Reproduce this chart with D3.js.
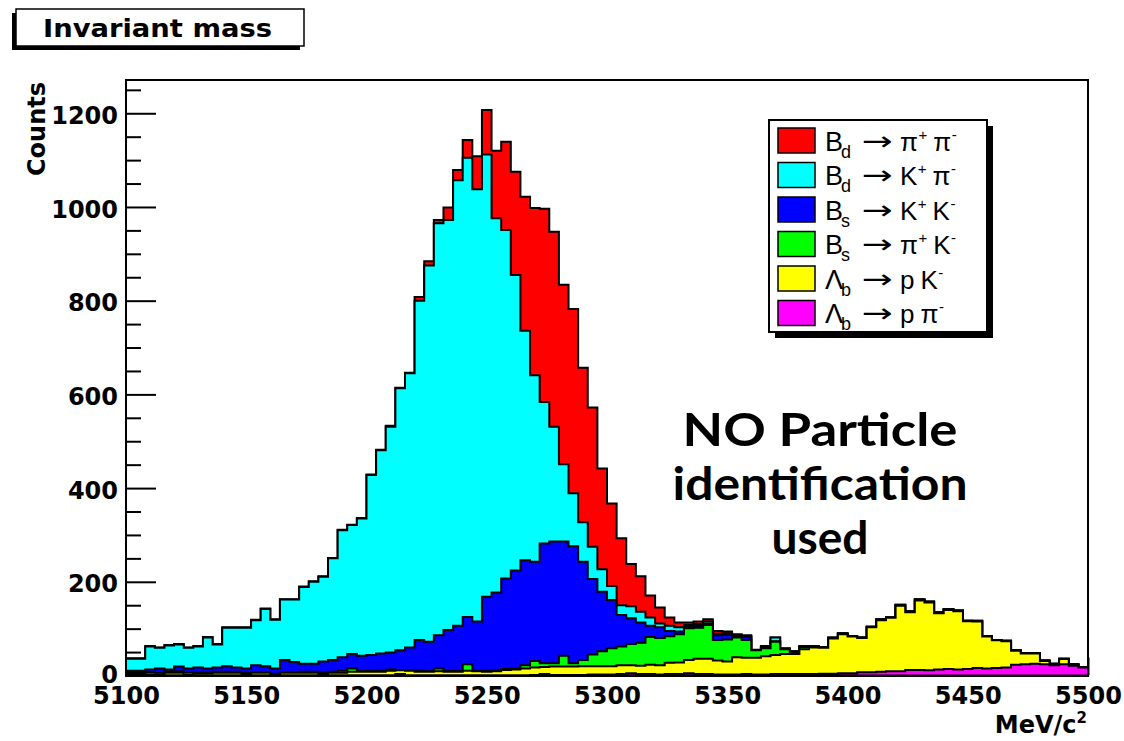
<!DOCTYPE html>
<html>
<head>
<meta charset="utf-8">
<title>Invariant mass</title>
<script src="https://cdn.jsdelivr.net/npm/d3@7"></script>
<style>
  html, body { margin: 0; padding: 0; background: #ffffff; }
  svg { display: block; }
</style>
</head>
<body>
<svg id="chart" width="1124" height="741"></svg>
<script>
// ---------- binning and axis values ----------
const massLow = 5100, massHigh = 5500, binWidth = 4;      // MeV/c^2, 100 bins
const countsMax = 1271;
const yTickValues = [0, 200, 400, 600, 800, 1000, 1200];
const xTickValues = [5100, 5150, 5200, 5250, 5300, 5350, 5400, 5450, 5500];

// ---------- per-channel counts per bin (stacked bottom -> top) ----------
const lbPpi = [
  0,0,0,0,0,0,0,0,0,0,  0,0,0,0,0,0,0,0,0,0,
  0,0,0,0,0,0,0,0,3,0,  0,0,0,0,0,0,0,0,0,0,
  0,0,1,3,1,1,1,1,2,2,  2,3,5,3,3,2,3,3,5,3,
  3,2,2,2,3,2,2,3,3,3,  3,3,4,4,5,5,7,7,8,9,
  9,12,12,11,13,14,13,14,16,15,  16,17,23,24,25,24,22,24,21,17
];
const lbPk = [
  4,4,2,2,6,6,2,5,5,6,  6,6,3,6,6,1,6,6,6,6,
  4,6,6,8,8,8,8,10,8,10,  8,8,9,8,8,10,9,8,9,12,
  13,15,16,15,18,18,18,19,18,18,  18,19,17,18,20,20,24,25,28,33,
  33,30,28,37,35,36,39,41,43,43,  53,57,55,75,83,78,73,96,110,114,
  140,123,148,145,120,126,124,102,99,68,  59,56,30,23,22,7,2,11,2,1
];
const bsPiK = [
  2,2,5,4,3,3,5,2,2,2,  2,2,3,1,1,3,1,1,2,2,
  3,2,4,7,2,2,2,3,1,1,  2,1,6,2,2,14,1,2,3,2,
  2,7,14,8,7,23,7,13,25,32,  38,40,45,49,59,58,57,60,68,66,
  72,44,47,42,38,16,17,28,10,4,  5,1,1,1,1,1,0,0,1,0,
  1,1,1,1,1,1,1,0,1,0,  0,0,0,0,0,0,0,0,0,0
];
const bsKK = [
  4,4,6,9,4,10,8,10,8,9,  12,9,9,15,13,11,26,22,17,17,
  23,25,29,31,32,34,37,36,42,49,  66,63,71,87,96,101,105,158,165,193,
  209,224,212,256,260,244,250,210,161,127,  103,67,55,43,24,23,11,6,4,4,
  3,10,10,2,6,0,2,1,1,1,  1,1,1,0,0,0,1,1,0,1,
  0,0,1,0,0,0,0,1,0,1,  1,1,1,1,1,1,1,1,1,0
];
const bdKPi = [
  26,26,49,44,51,47,44,45,66,49,  82,85,87,96,122,104,129,133,164,175,
  181,217,271,275,293,384,434,482,559,585,  724,803,879,875,951,980,923,944,799,744,
  631,490,398,302,245,165,113,84,69,48,  30,21,26,23,18,8,11,9,3,4,
  4,3,3,1,2,0,1,8,0,0,  0,0,0,1,1,0,0,0,1,0,
  1,1,0,1,1,1,1,0,1,0,  0,0,0,0,0,0,0,0,0,0
];
const bdPiPi = [
  1,1,1,1,1,1,1,1,1,1,  1,1,1,1,1,1,1,1,1,1,
  1,1,1,1,1,1,1,2,1,1,  8,9,7,27,22,38,70,95,144,188,
  220,286,357,412,416,383,393,330,297,215,  176,143,90,76,47,34,18,10,5,5,
  5,6,4,4,2,1,2,0,1,1,  1,1,0,0,0,0,0,0,0,0,
  0,0,1,0,0,0,0,0,0,0,  0,0,0,0,0,0,0,0,0,0
];

const seriesKeys = ["lbPpi", "lbPk", "bsPiK", "bsKK", "bdKPi", "bdPiPi"];
const seriesData = { lbPpi, lbPk, bsPiK, bsKK, bdKPi, bdPiPi };
const seriesColors = {
  bdPiPi: "#ff0000", bdKPi: "#00ffff", bsKK: "#0000ff",
  bsPiK: "#00ff00", lbPk: "#ffff00", lbPpi: "#ff00ff"
};
// legend rows, top to bottom
const legendKeys = ["bdPiPi", "bdKPi", "bsKK", "bsPiK", "lbPk", "lbPpi"];
const legendLabels = [
  { main: "B", sub: "d", a: "\u03c0", aSup: "+", b: "\u03c0", bSup: "-" },
  { main: "B", sub: "d", a: "K",      aSup: "+", b: "\u03c0", bSup: "-" },
  { main: "B", sub: "s", a: "K",      aSup: "+", b: "K",      bSup: "-" },
  { main: "B", sub: "s", a: "\u03c0", aSup: "+", b: "K",      bSup: "-" },
  { main: "\u039b", sub: "b", a: "p", aSup: "",  b: "K",      bSup: "-" },
  { main: "\u039b", sub: "b", a: "p", aSup: "",  b: "\u03c0", bSup: "-" }
];
const noteLines = ["NO Particle", "identification", "used"];

// ---------- layout ----------
const svg = d3.select("#chart");
const frame = { left: 126, right: 1088, top: 80, bottom: 675.5 };
const x = d3.scaleLinear().domain([massLow, massHigh]).range([frame.left, frame.right]);
const y = d3.scaleLinear().domain([0, countsMax]).range([frame.bottom, frame.top]);
const labelFont = "'DejaVu Sans', sans-serif";

svg.append("rect").attr("width", 1124).attr("height", 741).attr("fill", "#fff");

// frame
svg.append("rect")
  .attr("x", frame.left).attr("y", frame.top)
  .attr("width", frame.right - frame.left).attr("height", frame.bottom - frame.top)
  .attr("fill", "none").attr("stroke", "#000").attr("stroke-width", 2);

// y axis: major and minor ticks pointing into the frame
const minorY = d3.range(0, countsMax, 50).filter(v => v % 200 !== 0);
const gyMinor = svg.append("g").attr("transform", `translate(${frame.left},0)`)
  .call(d3.axisLeft(y).tickValues(minorY).tickSize(-15).tickFormat(""));
const gy = svg.append("g").attr("transform", `translate(${frame.left},0)`)
  .call(d3.axisLeft(y).tickValues(yTickValues).tickSize(-30).tickPadding(8).tickFormat(d3.format("d")));
[gyMinor, gy].forEach(g => {
  g.select(".domain").remove();
  g.selectAll(".tick line").attr("stroke", "#000").attr("stroke-width", 2);
});
gy.attr("font-family", labelFont).attr("font-size", 24).attr("font-weight", "bold");
gy.selectAll(".tick text").attr("fill", "#000").attr("dy", "0.42em");
// the zero label sits a little higher so it clears the first mass label
gy.selectAll(".tick text").filter(d => d === 0).attr("dy", "0.3em");

// x axis
const minorX = d3.range(massLow, massHigh + 1, 10).filter(v => (v - massLow) % 50 !== 0);
const gxMinor = svg.append("g").attr("transform", `translate(0,${frame.bottom})`)
  .call(d3.axisBottom(x).tickValues(minorX).tickSize(-9).tickFormat(""));
const gx = svg.append("g").attr("transform", `translate(0,${frame.bottom})`)
  .call(d3.axisBottom(x).tickValues(xTickValues).tickSize(-18).tickPadding(11).tickFormat(d3.format("d")));
[gxMinor, gx].forEach(g => {
  g.select(".domain").remove();
  g.selectAll(".tick line").attr("stroke", "#000").attr("stroke-width", 2);
});
gx.attr("font-family", labelFont).attr("font-size", 24).attr("font-weight", "bold");
gx.selectAll(".tick text").attr("fill", "#000");

// ---------- stacked histogram ----------
const nBins = lbPpi.length;
const rows = d3.range(nBins).map(i => {
  const r = { low: massLow + i * binWidth };
  seriesKeys.forEach(k => { r[k] = seriesData[k][i]; });
  return r;
});
const stacked = d3.stack().keys(seriesKeys)(rows);
const area = d3.area()
  .curve(d3.curveStepAfter)
  .x(d => x(d.m))
  .y0(y(0))
  .y1(d => y(d.top));

const histG = svg.append("g");
// each cumulative histogram is filled from zero, topmost sum first
stacked.slice().reverse().forEach(layer => {
  const pts = layer.map((d, i) => ({ m: rows[i].low, top: d[1] }));
  pts.push({ m: massHigh, top: layer[layer.length - 1][1] });
  histG.append("path")
    .attr("d", area(pts))
    .attr("fill", seriesColors[layer.key])
    .attr("stroke", "#000")
    .attr("stroke-width", 2)
    .attr("stroke-linejoin", "miter");
});

// ---------- axis titles ----------
svg.append("text")
  .attr("transform", "translate(45,82) rotate(-90)")
  .attr("text-anchor", "end")
  .attr("font-family", labelFont).attr("font-weight", "bold").attr("font-size", 24)
  .text("Counts");

const xTitle = svg.append("text")
  .attr("x", 1087).attr("y", 733)
  .attr("text-anchor", "end")
  .attr("font-family", labelFont).attr("font-weight", "bold").attr("font-size", 24);
xTitle.append("tspan").text("MeV/c");
xTitle.append("tspan").attr("font-size", 15).attr("dy", -10).text("2");

// ---------- title box ----------
svg.append("rect").attr("x", 12).attr("y", 13).attr("width", 288).attr("height", 37).attr("fill", "#000");
svg.append("rect").attr("x", 16).attr("y", 9).attr("width", 288).attr("height", 37)
  .attr("fill", "#fff").attr("stroke", "#000").attr("stroke-width", 1.5);
svg.append("text")
  .attr("x", 157.5).attr("y", 37)
  .attr("text-anchor", "middle")
  .attr("font-family", labelFont).attr("font-weight", "bold").attr("font-size", 25)
  .attr("textLength", 229).attr("lengthAdjust", "spacingAndGlyphs")
  .text("Invariant mass");

// ---------- legend ----------
const leg = { x: 769, y: 120, w: 218, h: 212 };
svg.append("rect").attr("x", leg.x + 6).attr("y", leg.y + 6).attr("width", leg.w).attr("height", leg.h).attr("fill", "#000");
svg.append("rect").attr("x", leg.x).attr("y", leg.y).attr("width", leg.w).attr("height", leg.h)
  .attr("fill", "#fff").attr("stroke", "#000").attr("stroke-width", 2);

const legendFont = "'Liberation Sans', Arial, sans-serif";
legendKeys.forEach((key, r) => {
  const cy = 140.5 + 34.5 * r;
  const lab = legendLabels[r];
  const g = svg.append("g").attr("font-family", legendFont).attr("fill", "#000");
  g.append("rect").attr("x", 778).attr("y", cy - 12.5).attr("width", 37).attr("height", 25)
    .attr("fill", seriesColors[key]).attr("stroke", "#000").attr("stroke-width", 1.5);

  const piece = (txt, px, py, size) =>
    g.append("text").attr("x", px).attr("y", py).attr("font-size", size).text(txt);
  const widthOf = sel => sel.node().getComputedTextLength();

  piece(lab.main, 825, cy + 10, 27);
  piece(lab.sub, 841, cy + 17, 18);
  piece("\u2192", 862, cy + 9, 26)
    .attr("font-family", "'DejaVu Sans', sans-serif")
    .attr("textLength", 31).attr("lengthAdjust", "spacingAndGlyphs");
  const a = piece(lab.a, 900, cy + 10, 26);
  let next = 900 + widthOf(a);
  if (lab.aSup) {
    const s = piece(lab.aSup, next + 0.5, cy - 1, 15);
    next += 0.5 + widthOf(s);
  }
  const bx = next + 6;
  const b = piece(lab.b, bx, cy + 10, 26);
  piece(lab.bSup, bx + widthOf(b) + 0.5, cy - 1, 15);
});

// ---------- annotation ----------
const noteBaselines = [446, 500, 554];
const noteWidths = [275, 295, 97];
noteLines.forEach((line, i) => {
  svg.append("text")
    .attr("x", 820).attr("y", noteBaselines[i])
    .attr("text-anchor", "middle")
    .attr("font-family", "Lato, 'DejaVu Sans', sans-serif")
    .attr("font-weight", 700).attr("font-size", 46)
    .attr("textLength", noteWidths[i]).attr("lengthAdjust", "spacingAndGlyphs")
    .text(line);
});
</script>
</body>
</html>
